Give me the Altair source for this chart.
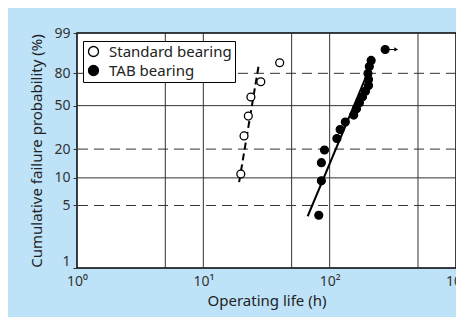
import altair as alt
import pandas as pd
import numpy as np

# ---- data ----
std_life = [19.8, 21.0, 22.7, 23.8, 28.5, 40.2]
std_prob = [11.0, 27.0, 41.0, 58.0, 72.5, 88.0]

tab_life = [82, 86, 86, 91, 114, 121, 133, 155, 163, 172, 182, 192, 203, 203, 201, 206, 213, 275]
tab_prob = [3.9, 9.3, 14.5, 19.6, 25.5, 31.0, 36.4, 41.8, 47.3, 52.7, 58.2, 63.6, 69.0, 74.5, 79.9, 85.3, 89.5, 95.0]

std_fit_life = [19.2, 27.6]
std_fit_prob = [9.0, 87.7]
tab_fit_life = [67, 203]
tab_fit_prob = [3.8, 82.0]

arrow_life = [275, 343]
arrow_prob = [95.0, 95.0]
arrow_head_life = [336]
arrow_head_prob = [95.0]

x_ticks = [1, 10, 100, 1000]
y_ticks = [1, 5, 10, 20, 50, 80, 99]
grid_x_solid = [5, 10, 50, 100, 500]
grid_y_solid = [10, 50]
grid_y_dashed = [5, 20, 80]

def wb(p):
    return float(np.log(-np.log(1 - p / 100.0)))

y_ticks_t = [wb(p) for p in y_ticks]
ymin, ymax = wb(1), wb(99)
WY = "log(-log(1 - datum.prob/100))"

pts = pd.DataFrame({
    "life": std_life + tab_life,
    "prob": std_prob + tab_prob,
    "series": ["Standard bearing"] * len(std_life) + ["TAB bearing"] * len(tab_life),
})

font = "Noto Sans"
x_enc = alt.X("life:Q",
              scale=alt.Scale(type="log", domain=[1, 1000], nice=False),
              axis=alt.Axis(values=x_ticks, title="Operating life (h)",
                            labelExpr="datum.value < 5 ? '10⁰' : datum.value < 50 ? '10¹' : datum.value < 500 ? '10²' : '10³'",
                            grid=False, ticks=False, domain=False, labelPadding=6,
                            labelFontSize=14, titleFontSize=15, labelFont=font, titleFont=font,
                            labelColor="#333333", titleColor="#222222", titleFontWeight="normal",
                            titlePadding=5, labelFlush=False))
y_enc = alt.Y("wy:Q",
              scale=alt.Scale(domain=[ymin, ymax], nice=False, zero=False),
              axis=alt.Axis(values=y_ticks_t, title="Cumulative failure probability (%)",
                            labelExpr="format(100*(1-exp(-exp(datum.value))), '.0f')",
                            labelBaseline={"condition": {"test": "datum.value < -4", "value": "bottom"},
                                           "value": "middle"},
                            grid=False, ticks=True, tickSize=4, tickColor="#333333", domain=False,
                            labelPadding=3, labelFontSize=14, titleFontSize=15,
                            labelFont=font, titleFont=font, labelColor="#333333",
                            titleColor="#222222", titleFontWeight="normal", titlePadding=9))

vgrid = alt.Chart(pd.DataFrame({"life": grid_x_solid})).mark_rule(
    color="#333333", strokeWidth=1).encode(x=x_enc)
hgrid = alt.Chart(pd.DataFrame({"prob": grid_y_solid})).transform_calculate(wy=WY).mark_rule(
    color="#333333", strokeWidth=1).encode(y=y_enc)
hdash = alt.Chart(pd.DataFrame({"prob": grid_y_dashed})).transform_calculate(wy=WY).mark_rule(
    color="#333333", strokeWidth=1, strokeDash=[10, 6]).encode(y=y_enc)

std_fit = alt.Chart(pd.DataFrame({"life": std_fit_life, "prob": std_fit_prob})).transform_calculate(
    wy=WY).mark_line(color="black", strokeWidth=2, strokeDash=[7, 4]).encode(x=x_enc, y=y_enc)
tab_fit = alt.Chart(pd.DataFrame({"life": tab_fit_life, "prob": tab_fit_prob})).transform_calculate(
    wy=WY).mark_line(color="black", strokeWidth=2).encode(x=x_enc, y=y_enc)

arrow = alt.Chart(pd.DataFrame({"life": arrow_life, "prob": arrow_prob})).transform_calculate(
    wy=WY).mark_line(color="black", strokeWidth=1).encode(x=x_enc, y=y_enc)
arrow_head = alt.Chart(pd.DataFrame({"life": arrow_head_life, "prob": arrow_head_prob})).transform_calculate(
    wy=WY).mark_point(shape="triangle-right", filled=True, color="black", size=18, opacity=1).encode(x=x_enc, y=y_enc)

points = alt.Chart(pts).transform_calculate(wy=WY).mark_point(
    shape="circle", stroke="black", strokeWidth=1.3, size=62, opacity=1, fillOpacity=1
).encode(
    x=x_enc, y=y_enc,
    fill=alt.Fill("series:N",
                  scale=alt.Scale(domain=["Standard bearing", "TAB bearing"], range=["white", "black"]),
                  legend=alt.Legend(title=None, orient="none", legendX=6, legendY=8,
                                    fillColor="white", strokeColor="black", padding=3,
                                    cornerRadius=0, symbolType="circle", symbolSize=100,
                                    symbolStrokeColor="black", symbolStrokeWidth=1.3,
                                    labelFontSize=15, labelFont=font, labelColor="#222222",
                                    rowPadding=2, labelOffset=8, labelLimit=300))
)

chart = alt.layer(vgrid, hgrid, hdash, std_fit, tab_fit, arrow, arrow_head, points).properties(
    width=379, height=235,
    autosize=alt.AutoSizeParams(type="none"),
    padding={"left": 69, "top": 25, "right": 0, "bottom": 49},
).configure(background="#bee3f8").configure_view(fill="white", stroke="black", strokeWidth=1.5)

chart.save("out.html", embed_options={"renderer": "svg", "actions": False})
